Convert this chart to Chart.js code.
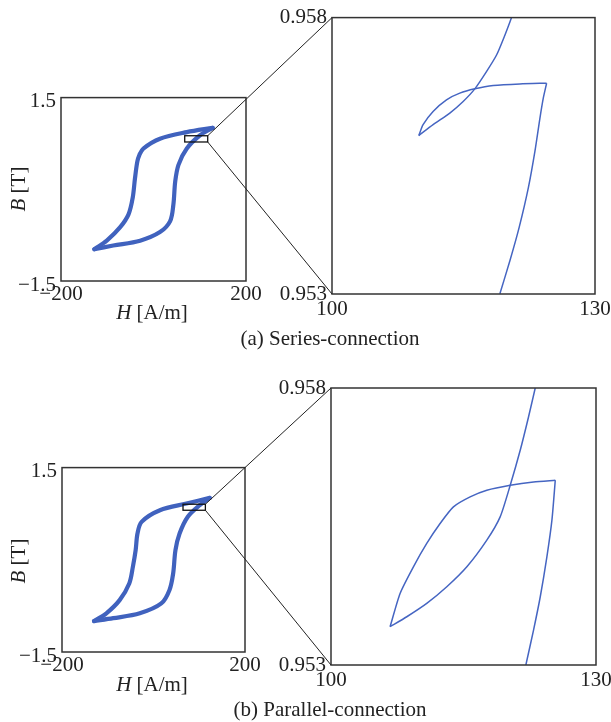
<!DOCTYPE html>
<html>
<head>
<meta charset="utf-8">
<script src="https://cdn.jsdelivr.net/npm/chart.js@4/dist/chart.umd.min.js"></script>
<style>
html,body{margin:0;padding:0;background:#fff;overflow:hidden;}
#page{position:relative;width:611px;height:722px;overflow:hidden;font-family:"Liberation Serif","Times New Roman",serif;color:#222;}
#page canvas{position:absolute;}
.lbl{position:absolute;font-size:21px;line-height:1;white-space:nowrap;transform:translate(-50%,-50%);}
.rot{transform:translate(-50%,-50%) rotate(-90deg);}
</style>
</head>
<body>
<div id="page">
  <canvas id="cA" width="270" height="250" style="left:0px;top:80px;"></canvas>
  <canvas id="cAz" width="380" height="330" style="left:260px;top:0px;"></canvas>
  <canvas id="cB" width="270" height="250" style="left:0px;top:450px;"></canvas>
  <canvas id="cBz" width="380" height="330" style="left:260px;top:370px;"></canvas>
  <canvas id="overlay" width="611" height="722" style="left:0;top:0;z-index:5;pointer-events:none;"></canvas>

  <div class="lbl" style="left:152px;top:312px;"><i>H</i> [A/m]</div>
  <div class="lbl rot" style="left:18px;top:189px;"><i>B</i> [T]</div>
  <div class="lbl" style="left:330px;top:338px;">(a) Series-connection</div>

  <div class="lbl" style="left:152px;top:684px;"><i>H</i> [A/m]</div>
  <div class="lbl rot" style="left:18px;top:561px;"><i>B</i> [T]</div>
  <div class="lbl" style="left:330px;top:709px;">(b) Parallel-connection</div>
</div>
<script>
// ---------- tick labels / axis limits ----------
const fullTicksH = [-200, 200];
const fullTicksB = [-1.5, 1.5];
const zoomTicksH = [100, 130];
const zoomTicksB = [0.953, 0.958];

// ---------- (a) series-connection, full loop ----------
const aUpperH = [128, 72, 14, -22, -30.6, -35, -40, -45, -54, -72, -101, -128];
const aUpperB = [1.005, 0.935, 0.828, 0.667, 0.56, 0.452, 0.183, -0.14, -0.41, -0.62, -0.84, -0.98];
const aLowerH = [-128, -87, -29, 14, 36, 43, 47, 54, 72, 100, 128];
const aLowerB = [-0.98, -0.92, -0.84, -0.70, -0.52, -0.25, 0.13, 0.40, 0.667, 0.88, 1.005];
const aBoxH = [67.5, 117.2];
const aBoxB = [0.774, 0.876];

// ---------- (a) zoomed view ----------
const aRiseH = [119.15, 120.3, 121.35, 122.4, 123.15, 123.72, 124.10, 124.48];
const aRiseB = [0.953006, 0.953606, 0.954205, 0.954924, 0.955584, 0.956183, 0.956543, 0.956813];
const aFallH = [124.48, 121.43, 118.39, 116.29, 114.58, 113.06, 111.53, 110.39, 109.90];
const aFallB = [0.956813, 0.956801, 0.956771, 0.956711, 0.956633, 0.956513, 0.956303, 0.956064, 0.955866];
const aBackH = [109.90, 111.53, 113.44, 114.96, 116.29, 117.62, 118.77, 119.72, 120.48];
const aBackB = [0.955866, 0.956064, 0.956273, 0.956483, 0.956711, 0.957023, 0.957323, 0.957682, 0.958];

// ---------- (b) parallel-connection, full loop ----------
const bUpperH = [123, 72, 14, -26, -35, -39, -45, -53, -74, -103, -130];
const bUpperB = [1.007, 0.915, 0.806, 0.617, 0.427, 0.157, -0.11, -0.385, -0.656, -0.87, -0.997];
const bLowerH = [-130, -88, -30, 17, 35, 43, 48, 57, 75, 101, 123];
const bLowerB = [-0.997, -0.95, -0.87, -0.71, -0.49, -0.22, 0.157, 0.427, 0.70, 0.888, 1.007];
const bBoxH = [64.5, 113.4];
const bBoxB = [0.806, 0.904];

// ---------- (b) zoomed view ----------
const bRiseH = [122.06, 122.93, 123.69, 124.44, 125.01, 125.39];
const bRiseB = [0.953, 0.953631, 0.954232, 0.954953, 0.955614, 0.956335];
const bFallH = [125.39, 122.93, 120.29, 117.64, 115.75, 113.86, 112.35, 110.84, 109.33, 107.82, 106.69];
const bFallB = [0.956335, 0.956305, 0.956245, 0.956155, 0.956035, 0.955855, 0.955554, 0.955194, 0.954773, 0.954292, 0.953691];
const bBackH = [106.69, 108.58, 110.84, 113.11, 115.38, 117.64, 119.15, 120.29, 121.42, 122.36, 123.12];
const bBackB = [0.953691, 0.953871, 0.954112, 0.954412, 0.954773, 0.955254, 0.955674, 0.956245, 0.956876, 0.957477, 0.958];

// ---------- helpers ----------
const LOOP_COLOR = '#4062be';
const ZOOM_COLOR = '#4565c2';
const pts = (xs, ys) => xs.map((x, i) => ({x: x, y: ys[i]}));
const minus = v => (v < 0 ? '\u2212' + String(Math.abs(v)) : String(v));

Chart.defaults.font.family = '"Liberation Serif", "Times New Roman", serif';
Chart.defaults.font.size = 21;
Chart.defaults.color = '#222';

const framePlugin = {
  id: 'frame',
  afterDatasetsDraw(chart, args, opts) {
    const ctx = chart.ctx, a = chart.chartArea;
    ctx.save();
    if (opts.box) {
      const xs = chart.scales.x, ys = chart.scales.y;
      const x0 = xs.getPixelForValue(opts.box.h[0]), x1 = xs.getPixelForValue(opts.box.h[1]);
      const y0 = ys.getPixelForValue(opts.box.b[1]), y1 = ys.getPixelForValue(opts.box.b[0]);
      ctx.strokeStyle = '#111';
      ctx.lineWidth = 1.3;
      ctx.strokeRect(x0, y0, x1 - x0, y1 - y0);
    }
    ctx.strokeStyle = '#333';
    ctx.lineWidth = 1.5;
    ctx.strokeRect(a.left, a.top, a.right - a.left, a.bottom - a.top);
    ctx.restore();
  }
};

function makeChart(id, datasets, cfg) {
  return new Chart(document.getElementById(id), {
    type: 'scatter',
    data: {datasets: datasets},
    options: {
      responsive: false,
      animation: false,
      events: [],
      layout: {padding: cfg.padding},
      plugins: {legend: {display: false}, tooltip: {enabled: false}, frame: {box: cfg.box || null}},
      elements: {point: {radius: 0}},
      scales: {
        x: {
          type: 'linear', min: cfg.xt[0], max: cfg.xt[1],
          grid: {display: false, drawTicks: false}, border: {display: false},
          afterBuildTicks: s => { s.ticks = cfg.xt.map(v => ({value: v})); },
          afterFit: s => { s.height = cfg.xh; },
          ticks: {padding: cfg.xpad, maxRotation: 0, autoSkip: false, callback: v => cfg.xfmt(v)}
        },
        y: {
          type: 'linear', min: cfg.yt[0], max: cfg.yt[1],
          grid: {display: false, drawTicks: false}, border: {display: false},
          afterBuildTicks: s => { s.ticks = cfg.yt.map(v => ({value: v})); },
          afterFit: s => { s.width = cfg.yw; },
          ticks: {padding: 5, labelOffset: cfg.yoff, autoSkip: false, callback: v => cfg.yfmt(v)}
        }
      }
    },
    plugins: [framePlugin]
  });
}

function loopSets(upH, upB, loH, loB) {
  const common = {showLine: true, borderColor: LOOP_COLOR, borderWidth: 4.2, tension: 0.32, pointRadius: 0, borderCapStyle: 'round', borderJoinStyle: 'round'};
  return [
    Object.assign({label: 'descending', data: pts(upH, upB)}, common),
    Object.assign({label: 'ascending', data: pts(loH, loB)}, common)
  ];
}
function zoomSets(rH, rB, fH, fB, kH, kB) {
  const common = {showLine: true, borderColor: ZOOM_COLOR, borderWidth: 1.5, tension: 0.22, pointRadius: 0};
  return [
    Object.assign({label: 'rise', data: pts(rH, rB)}, common),
    Object.assign({label: 'fall', data: pts(fH, fB)}, common),
    Object.assign({label: 'return', data: pts(kH, kB)}, common)
  ];
}

const fullCfg = (pad, xh, yw, box) => ({
  padding: pad, xh: xh, yw: yw, box: box, yoff: 4, xpad: 1,
  xt: fullTicksH, yt: fullTicksB, xfmt: minus, yfmt: minus
});
const zoomCfg = (pad, xh, yw) => ({
  padding: pad, xh: xh, yw: yw, yoff: 0, xpad: 3,
  xt: zoomTicksH, yt: zoomTicksB, xfmt: v => String(v), yfmt: v => v.toFixed(3)
});

const chA = makeChart('cA', loopSets(aUpperH, aUpperB, aLowerH, aLowerB),
  fullCfg({left: 0, top: 15, right: 24, bottom: 0}, 49, 61, {h: aBoxH, b: aBoxB}));
const chAz = makeChart('cAz', zoomSets(aRiseH, aRiseB, aFallH, aFallB, aBackH, aBackB),
  zoomCfg({left: 0, top: 16, right: 45, bottom: 0}, 36, 72));
const chB = makeChart('cB', loopSets(bUpperH, bUpperB, bLowerH, bLowerB),
  fullCfg({left: 0, top: 17, right: 25, bottom: 0}, 48, 62, {h: bBoxH, b: bBoxB}));
const chBz = makeChart('cBz', zoomSets(bRiseH, bRiseB, bFallH, bFallB, bBackH, bBackB),
  zoomCfg({left: 0, top: 18, right: 44, bottom: 0}, 35, 71));

// ---------- connector lines between the zoom box and the zoomed panel ----------
function pagePt(chart, xv, yv) {
  const c = chart.canvas;
  return [c.offsetLeft + chart.scales.x.getPixelForValue(xv), c.offsetTop + chart.scales.y.getPixelForValue(yv)];
}
const octx = document.getElementById('overlay').getContext('2d');
octx.strokeStyle = '#222';
octx.lineWidth = 1;
function connect(small, big, boxH, boxB) {
  const p1 = pagePt(small, boxH[1], boxB[1]);
  const q1 = pagePt(big, zoomTicksH[0], zoomTicksB[1]);
  const p2 = pagePt(small, boxH[1], boxB[0]);
  const q2 = pagePt(big, zoomTicksH[0], zoomTicksB[0]);
  octx.beginPath();
  octx.moveTo(p1[0], p1[1]); octx.lineTo(q1[0], q1[1]);
  octx.moveTo(p2[0], p2[1]); octx.lineTo(q2[0], q2[1]);
  octx.stroke();
}
connect(chA, chAz, aBoxH, aBoxB);
connect(chB, chBz, bBoxH, bBoxB);
</script>
</body>
</html>
